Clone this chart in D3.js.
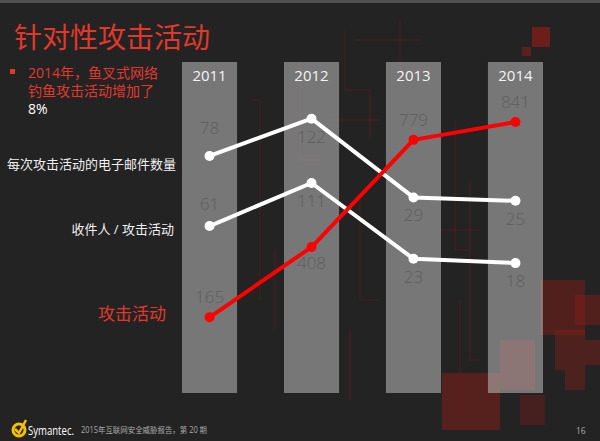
<!DOCTYPE html>
<html><head><meta charset="utf-8">
<script src="https://cdn.jsdelivr.net/npm/d3@7"></script>
<style>html,body{margin:0;padding:0;background:#232323;}svg{display:block;}</style>
</head><body>
<script>
// ---- data ----
const years = ["2011", "2012", "2013", "2014"];
const emailsPerCampaign = [78, 122, 29, 25];
const recipientsPerCampaign = [61, 111, 23, 18];
const campaigns = [165, 408, 779, 841];
const seriesNames = ["每次攻击活动的电子邮件数量", "收件人 / 攻击活动", "攻击活动"];
const labelSide = {
  emails: ["above", "below", "below", "below"],
  recipients: ["above", "below", "below", "below"],
  campaigns: ["above", "below", "above", "above"]
};

const W = 600, H = 441;
const svg = d3.select("body").append("svg").attr("width", W).attr("height", H);
const cjk = "'Segoe UI','Open Sans','Noto Sans CJK SC',sans-serif";

svg.append("rect").attr("width", W).attr("height", H).attr("fill", "#232323");
svg.append("rect").attr("width", W).attr("height", 3).attr("fill", "#505050");

// decorative background (circuit-style art)
const deco = svg.append("g");
const sq = [[532,27,18,20,0.7],[522,47,9,9,0.55],[442,373,58,57,0.5],[540,280,45,55,0.45],[555,330,30,40,0.4],[500,340,35,50,0.45],[520,395,25,30,0.35],[575,295,25,30,0.45],[565,370,20,20,0.4],[585,340,15,25,0.4]];
deco.selectAll("rect").data(sq).join("rect")
  .attr("x", d => d[0]).attr("y", d => d[1]).attr("width", d => d[2]).attr("height", d => d[3])
  .attr("fill", "#8a1d17").attr("opacity", d => d[4]);
const lines = [[[300,60],[300,160],[320,160]],[[345,30],[345,90],[370,90],[370,140]],[[400,20],[400,70],[430,70]],[[360,200],[360,300],[380,300]],[[455,120],[455,250],[470,250]],[[350,330],[350,400]],[[460,300],[460,420]],[[470,180],[470,360],[480,360]],[[250,100],[260,100],[260,300]],[[330,120],[380,120]],[[440,230],[480,230]],[[355,40],[420,40]],[[275,250],[275,330]]];
deco.selectAll("path").data(lines).join("path")
  .attr("d", d => d3.line()(d)).attr("fill", "none").attr("stroke", "#6a1c17").attr("stroke-width", 1).attr("opacity", 0.6);

// title
svg.append("text").attr("x", 14).attr("y", 48).text("针对性攻击活动")
  .attr("font-family", cjk).attr("font-size", 28).attr("fill", "#e2382c");
svg.append("rect").attr("x", 10).attr("y", 69).attr("width", 5).attr("height", 5).attr("fill", "#e2382c");
svg.append("text").attr("x", 28).attr("y", 78).text("2014年，鱼叉式网络")
  .attr("font-family", cjk).attr("font-size", 14).attr("fill", "#e2382c");
svg.append("text").attr("x", 28).attr("y", 96).text("钓鱼攻击活动增加了")
  .attr("font-family", cjk).attr("font-size", 14).attr("fill", "#e2382c");
svg.append("text").attr("x", 28).attr("y", 114).text("8%")
  .attr("font-family", cjk).attr("font-size", 14).attr("fill", "#ffffff");

// scales
const x = d3.scaleBand().domain(years).range([182, 543]).paddingInner(0.46).paddingOuter(0);
const cx = d => x(d) + x.bandwidth() / 2;
const yCampaigns = d3.scaleLinear().domain([0, 1000]).range([365, 76]);
const yEmails = d3.scaleLinear().domain([0, 150]).range([222, 95]);
const yRecipients = d3.scaleLinear().domain([0, 150]).range([278.6, 149.4]);

// columns
svg.append("g").selectAll("rect").data(years).join("rect")
  .attr("x", d => x(d)).attr("y", 62).attr("width", x.bandwidth()).attr("height", 331)
  .attr("fill", "#bdbdbd").attr("opacity", 0.55);
svg.append("g").selectAll("text").data(years).join("text")
  .attr("x", d => cx(d)).attr("y", 81).attr("text-anchor", "middle").text(d => d)
  .attr("font-family", cjk).attr("font-size", 15).attr("fill", "#f4f4f4");

// series
const series = [
  { key: "emails", values: emailsPerCampaign, y: yEmails, color: "#ffffff", aboveOff: -22, belowOff: 24 },
  { key: "recipients", values: recipientsPerCampaign, y: yRecipients, color: "#ffffff", aboveOff: -16, belowOff: 24 },
  { key: "campaigns", values: campaigns, y: yCampaigns, color: "#ff0000", aboveOff: -14, belowOff: 22 }
];
series.forEach(s => {
  const pts = years.map((yr, i) => [cx(yr), s.y(s.values[i])]);
  svg.append("path").attr("d", d3.line()(pts)).attr("fill", "none")
    .attr("stroke", s.color).attr("stroke-width", 4).attr("stroke-linejoin", "round");
  svg.append("g").selectAll("circle").data(pts).join("circle")
    .attr("cx", d => d[0]).attr("cy", d => d[1]).attr("r", 5).attr("fill", s.color);
  svg.append("g").selectAll("text").data(s.values).join("text")
    .attr("x", (d, i) => cx(years[i]))
    .attr("y", (d, i) => s.y(d) + (labelSide[s.key][i] === "above" ? s.aboveOff : s.belowOff))
    .attr("text-anchor", "middle").text(d => d)
    .attr("font-family", cjk).attr("font-weight", 300).attr("font-size", 17).attr("fill", "#5e5e5e");
});

// series labels
svg.append("text").attr("x", 176).attr("y", 169).attr("text-anchor", "end").text(seriesNames[0])
  .attr("font-family", cjk).attr("font-size", 13).attr("fill", "#f0f0f0");
svg.append("text").attr("x", 174).attr("y", 234).attr("text-anchor", "end").text(seriesNames[1])
  .attr("font-family", cjk).attr("font-size", 13).attr("fill", "#f0f0f0");
svg.append("text").attr("x", 166).attr("y", 320).attr("text-anchor", "end").text(seriesNames[2])
  .attr("font-family", cjk).attr("font-size", 17).attr("fill", "#e2382c");

// footer
const logo = svg.append("g");
logo.append("circle").attr("cx", 19).attr("cy", 430).attr("r", 6).attr("fill", "none").attr("stroke", "#f5c000").attr("stroke-width", 3);
logo.append("path").attr("d", "M15,429 L19,433 L26,420").attr("fill", "none").attr("stroke", "#f5c000").attr("stroke-width", 2.5);
logo.append("text").attr("x", 28).attr("y", 435).text("Symantec.")
  .attr("font-family", "'Open Sans',sans-serif").attr("font-size", 12).attr("fill", "#ffffff")
  .attr("textLength", 46).attr("lengthAdjust", "spacingAndGlyphs");
svg.append("text").attr("x", 81).attr("y", 433).text("2015年互联网安全威胁报告，第 20 期")
  .attr("font-family", cjk).attr("font-size", 8.5).attr("fill", "#aaaaaa")
  .attr("textLength", 126).attr("lengthAdjust", "spacingAndGlyphs");
svg.append("text").attr("x", 576).attr("y", 434).text("16")
  .attr("font-family", cjk).attr("font-size", 8.5).attr("fill", "#aaaaaa");
</script>
</body></html>
